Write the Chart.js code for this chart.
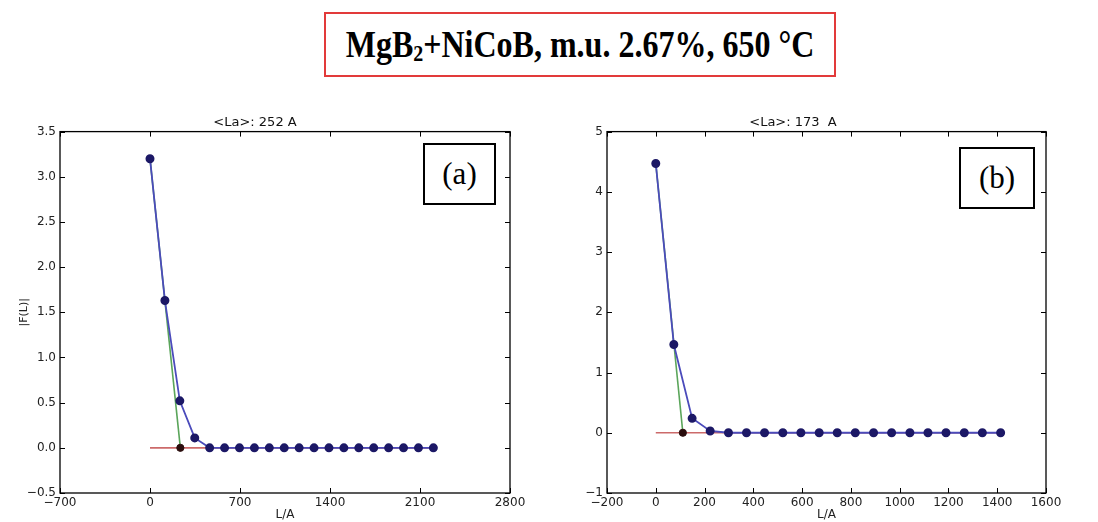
<!DOCTYPE html>
<html>
<head>
<meta charset="utf-8">
<script src="https://cdn.jsdelivr.net/npm/chart.js@4.4.0/dist/chart.umd.min.js"></script>
<style>
  html, body { margin: 0; padding: 0; background: #fff; }
  body { width: 1098px; height: 522px; position: relative; overflow: hidden; }
  #hdr {
    position: absolute; left: 324px; top: 12px; width: 508px; height: 61px;
    border: 2px solid #e23a3a;
    font-family: "Liberation Serif", "Times New Roman", serif;
    font-weight: bold; font-size: 32px; color: #000;
    text-align: center; line-height: 61px;
  }
  #hdr span { display: inline-block; transform: scaleY(1.2); }
  #hdr sub { font-size: 20px; vertical-align: -3px; line-height: 0; }
  .wrap { position: absolute; top: 110px; height: 412px; }
  #wrapA { left: 0; width: 540px; }
  #wrapB { left: 540px; width: 558px; }
  .tag {
    position: absolute; border: 2px solid #000; background: #fff;
    font-family: "Liberation Serif", "Times New Roman", serif;
    font-size: 31px; text-align: center; color: #000;
  }
  #tagA { left: 423px; top: 143px; width: 69px; height: 58px; line-height: 58px; }
  #tagB { left: 959px; top: 147px; width: 72px; height: 58px; line-height: 58px; }
</style>
</head>
<body>
<div id="hdr"><span>MgB<sub>2</sub>+NiCoB, m.u. 2.67%, 650 °C</span></div>
<div class="wrap" id="wrapA"><canvas id="chartA"></canvas></div>
<div class="wrap" id="wrapB"><canvas id="chartB"></canvas></div>
<div class="tag" id="tagA">(a)</div>
<div class="tag" id="tagB">(b)</div>
<script>
// Panel (a): Fourier coefficients vs column length
const lengthA = [0, 116, 232, 348, 464, 580, 696, 812, 928, 1044, 1160, 1276, 1392, 1508, 1624, 1740, 1856, 1972, 2088, 2204];
const coefA = [3.20, 1.63, 0.52, 0.11, 0, 0, 0, 0, 0, 0, 0, 0, 0, 0, 0, 0, 0, 0, 0, 0];
const tangentXA = [0, 236];
const tangentYA = [3.20, 0];
const baseXA = [0, 2204];
const baseYA = [0, 0];
const xTicksA = [-700, 0, 700, 1400, 2100, 2800];
const yTicksA = [-0.5, 0.0, 0.5, 1.0, 1.5, 2.0, 2.5, 3.0, 3.5];

// Panel (b)
const lengthB = [0, 74, 149, 223, 298, 372, 446, 521, 595, 670, 744, 818, 893, 967, 1042, 1116, 1190, 1265, 1339, 1414];
const coefB = [4.47, 1.465, 0.24, 0.03, 0, 0, 0, 0, 0, 0, 0, 0, 0, 0, 0, 0, 0, 0, 0, 0];
const tangentXB = [0, 111];
const tangentYB = [4.47, 0];
const baseXB = [0, 1414];
const baseYB = [0, 0];
const xTicksB = [-200, 0, 200, 400, 600, 800, 1000, 1200, 1400, 1600];
const yTicksB = [-1, 0, 1, 2, 3, 4, 5];

Chart.defaults.font.family = "'DejaVu Sans', sans-serif";
Chart.defaults.color = "#222";
Chart.defaults.animation = false;

function pts(xs, ys) {
  return xs.map((x, i) => ({ x: x, y: ys[i] }));
}

function fmt(v, digits) {
  return v.toFixed(digits).replace("-", "\u2212");
}

// matplotlib style frame with inward ticks on all four sides
const frameTicks = {
  id: "frameTicks",
  afterDraw(chart) {
    const ctx = chart.ctx;
    const a = chart.chartArea;
    const xs = chart.scales.x, ys = chart.scales.y;
    ctx.save();
    ctx.strokeStyle = "#000";
    ctx.lineWidth = 1;
    ctx.beginPath();
    xs.ticks.forEach((t) => {
      const px = Math.round(xs.getPixelForValue(t.value)) + 0.5;
      ctx.moveTo(px, a.bottom); ctx.lineTo(px, a.bottom - 5);
      ctx.moveTo(px, a.top); ctx.lineTo(px, a.top + 5);
    });
    ys.ticks.forEach((t) => {
      const py = Math.round(ys.getPixelForValue(t.value)) + 0.5;
      ctx.moveTo(a.left, py); ctx.lineTo(a.left + 5, py);
      ctx.moveTo(a.right, py); ctx.lineTo(a.right - 5, py);
    });
    ctx.stroke();
    ctx.lineWidth = 1.3;
    ctx.strokeRect(a.left, a.top, a.right - a.left, a.bottom - a.top);
    ctx.restore();
  },
};

function makeChart(id, cfg) {
  return new Chart(document.getElementById(id), {
    type: "scatter",
    data: {
      datasets: [
        {
          data: pts(cfg.lx, cfg.ly),
          showLine: true,
          borderColor: "#4b4bbb",
          borderWidth: 1.8,
          backgroundColor: "#1c1866",
          pointBorderColor: "#1c1866",
          pointRadius: 3.6,
          order: 1,
        },
        {
          data: pts([cfg.tx[1]], [cfg.ty[1]]),
          backgroundColor: "#2a0d0d",
          pointBorderColor: "#2a0d0d",
          pointRadius: 3.6,
          order: 0,
        },
        {
          data: pts(cfg.tx, cfg.ty),
          showLine: true,
          borderColor: "#5aa55a",
          borderWidth: 1.6,
          pointRadius: 0,
          order: 2,
        },
        {
          data: pts(cfg.bx, cfg.by),
          showLine: true,
          borderColor: "#cc6a6a",
          borderWidth: 1.6,
          pointRadius: 0,
          order: 3,
        },
      ],
    },
    options: {
      responsive: true,
      maintainAspectRatio: false,
      layout: { padding: { left: 0, right: cfg.padRight, top: 0, bottom: 0 } },
      plugins: {
        legend: { display: false },
        tooltip: { enabled: false },
        title: {
          display: true,
          text: cfg.title,
          color: "#111",
          font: { size: 13, weight: "normal" },
          padding: { top: 5, bottom: 1 },
        },
      },
      scales: {
        x: {
          type: "linear",
          min: cfg.xTicks[0],
          max: cfg.xTicks[cfg.xTicks.length - 1],
          afterBuildTicks: (s) => { s.ticks = cfg.xTicks.map((v) => ({ value: v })); },
          afterFit: (s) => { s.height = 29; },
          grid: { display: false, drawTicks: false },
          border: { display: false },
          ticks: {
            font: { size: 12 },
            padding: 3,
            maxRotation: 0,
            autoSkip: false,
            callback: (v) => fmt(v, 0),
          },
          title: { display: true, text: "L/A", font: { size: 12 }, padding: { top: 0, bottom: 0 } },
        },
        y: {
          type: "linear",
          min: cfg.yTicks[0],
          max: cfg.yTicks[cfg.yTicks.length - 1],
          afterBuildTicks: (s) => { s.ticks = cfg.yTicks.map((v) => ({ value: v })); },
          afterFit: (s) => { s.width = cfg.yWidth; },
          grid: { display: false, drawTicks: false },
          border: { display: false },
          ticks: {
            font: { size: 12 },
            padding: 4,
            autoSkip: false,
            callback: (v) => fmt(v, cfg.yDigits),
          },
          title: {
            display: cfg.yTitle !== "",
            text: cfg.yTitle,
            font: { size: 11 },
            padding: { top: 18, bottom: 0 },
          },
        },
      },
    },
    plugins: [frameTicks],
  });
}

makeChart("chartA", {
  lx: lengthA, ly: coefA, tx: tangentXA, ty: tangentYA, bx: baseXA, by: baseYA,
  xTicks: xTicksA, yTicks: yTicksA, yDigits: 1,
  title: "<La>: 252 A", yTitle: "|F(L)|", yWidth: 60, padRight: 30,
});

makeChart("chartB", {
  lx: lengthB, ly: coefB, tx: tangentXB, ty: tangentYB, bx: baseXB, by: baseYB,
  xTicks: xTicksB, yTicks: yTicksB, yDigits: 0,
  title: "<La>: 173  A", yTitle: "", yWidth: 67, padRight: 52,
});
</script>
</body>
</html>
